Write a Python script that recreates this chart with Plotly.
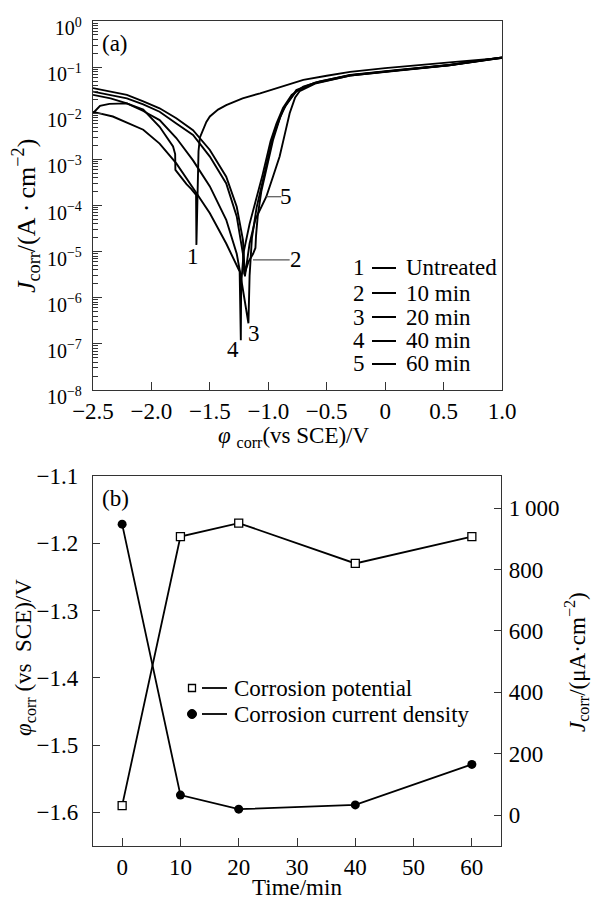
import math
import plotly.graph_objects as go

# ---------------- (a) polarization curves ----------------
# potential (V vs SCE) and current density (A/cm^2)
E1 = [-2.5, -2.44, -2.36, -2.21, -2.07, -1.93, -1.815, -1.797, -1.795, -1.73, -1.70, -1.66, -1.618, -1.615,
      -1.608, -1.603, -1.597, -1.585, -1.56, -1.53, -1.50, -1.43, -1.36, -1.22, -1.07, -0.93, -0.70, -0.5, -0.3,
      0.0, 0.3, 0.6, 1.0]
J1 = [1e-2, 1.45e-2, 1.6e-2, 1.64e-2, 1.2e-2, 5.1e-3, 1.9e-3, 1.3e-3, 5.9e-4, 3.5e-4, 2.9e-4, 2.3e-4, 1.7e-4, 1.4e-5,
      1e-4, 6e-4, 1.5e-3, 3e-3, 4.4e-3, 6.5e-3, 8.5e-3, 1.2e-2, 1.5e-2, 2.1e-2, 2.7e-2, 3.5e-2, 5.3e-2, 6.5e-2, 7.9e-2,
      9.5e-2, 1.12e-1, 1.3e-1, 1.58e-1]

E2 = [-2.5, -2.35, -2.21, -2.07, -1.93, -1.787, -1.644, -1.5, -1.36, -1.27, -1.217, -1.205,
      -1.17, -1.13, -1.11, -1.105, -1.09, -1.06, -1.02, -0.96, -0.9, -0.85, -0.76, -0.6, -0.3, 0.13, 0.55, 1.0]
J2 = [2.95e-2, 2.5e-2, 2.1e-2, 1.55e-2, 1.08e-2, 6e-3, 3.4e-3, 1.15e-3, 3e-4, 5.8e-5, 9e-6, 3.2e-6,
      6e-6, 9e-6, 1.2e-5, 2.2e-5, 6e-5, 2e-4, 6e-4, 2.6e-3, 8e-3, 1.5e-2, 3e-2, 4.5e-2, 6.6e-2, 8.7e-2, 1.1e-1, 1.6e-1]

E3 = [-2.5, -2.35, -2.21, -2.07, -1.93, -1.787, -1.644, -1.5, -1.36, -1.27, -1.24, -1.17,
      -1.16, -1.14, -1.10, -1.045, -0.96, -0.874, -0.76, -0.6, -0.3, 0.13, 0.55, 1.0]
J3 = [2.5e-2, 2.1e-2, 1.64e-2, 1.12e-2, 7.1e-3, 2.9e-3, 9.5e-4, 2.6e-4, 4.9e-5, 9e-6, 3.4e-6, 2.8e-7,
      3e-6, 2e-5, 9e-5, 3.5e-4, 3.1e-3, 1.2e-2, 3.2e-2, 4.6e-2, 6.8e-2, 8.8e-2, 1.11e-1, 1.62e-1]

E4 = [-2.5, -2.33, -2.2, -2.07, -1.93, -1.787, -1.644, -1.5, -1.36, -1.3, -1.245, -1.235,
      -1.232, -1.21, -1.16, -1.1, -1.05, -0.98, -0.93, -0.874, -0.8, -0.7, -0.56, -0.3, 0.13, 0.55, 1.0]
J4 = [1.07e-2, 8.5e-3, 6.1e-3, 4.4e-3, 2.2e-3, 8.2e-4, 2.4e-4, 6.8e-5, 1.5e-5, 7.5e-6, 3.7e-6, 1.2e-7,
      2e-6, 1e-5, 4e-5, 1.5e-4, 4.5e-4, 2.5e-3, 6e-3, 1.3e-2, 2.5e-2, 3.8e-2, 4.9e-2, 6.7e-2, 8.8e-2, 1.11e-1, 1.63e-1]

E5 = [-2.5, -2.35, -2.21, -2.07, -1.93, -1.787, -1.644, -1.5, -1.36, -1.27, -1.217, -1.2,
      -1.16, -1.11, -1.074, -1.017, -0.96, -0.903, -0.86, -0.817, -0.77, -0.732, -0.6, -0.3, 0.13, 0.55, 1.0]
J5 = [3.5e-2, 2.95e-2, 2.5e-2, 1.8e-2, 1.28e-2, 7.8e-3, 4.3e-3, 1.6e-3, 4.2e-4, 9.4e-5, 1.8e-5, 2.9e-6,
      1.5e-5, 5e-5, 8e-5, 1.55e-4, 4.2e-4, 1.15e-3, 3.4e-3, 1e-2, 2.2e-2, 3e-2, 4.4e-2, 6.6e-2, 8.6e-2, 1.1e-1, 1.6e-1]

curve_names = ["Untreated", "10 min", "20 min", "40 min", "60 min"]
curve_ids = ["1", "2", "3", "4", "5"]
# label positions on the curves (potential, current density)
label_E = [-1.642, -0.765, -1.124, -1.302, -0.846]
label_J = [7.8e-6, 6.6e-6, 1.7e-7, 7.4e-8, 1.55e-4]
# leader lines for labels 2 and 5
lead2_E = [-1.131, -0.817]
lead2_J = [6.6e-6, 6.6e-6]
lead5_E = [-1.017, -0.889]
lead5_J = [1.55e-4, 1.55e-4]

xa_ticks = [-2.5, -2.0, -1.5, -1.0, -0.5, 0.0, 0.5, 1.0]
xa_text = ["\u22122.5", "\u22122.0", "\u22121.5", "\u22121.0", "\u22120.5", "0", "0.5", "1.0"]
ya_exps = [-8, -7, -6, -5, -4, -3, -2, -1, 0]

# ---------------- (b) corrosion parameters ----------------
time_min = [0, 10, 20, 40, 60]
phi_corr = [-1.59, -1.19, -1.17, -1.23, -1.19]
j_corr = [948, 65, 19, 33, 165]

xb_ticks = [0, 10, 20, 30, 40, 50, 60]
yb_ticks = [-1.6, -1.5, -1.4, -1.3, -1.2, -1.1]
yb_text = ["\u22121.6", "\u22121.5", "\u22121.4", "\u22121.3", "\u22121.2", "\u22121.1"]
yr_ticks = [0, 200, 400, 600, 800, 1000]
yr_text = ["0", "200", "400", "600", "800", "1\u2009000"]

# ---------------- figure ----------------
W, H = 591, 900
FONT = "Liberation Serif, Times New Roman, serif"
FS = 23
AX = "#333333"


def px(x):
    return x / W


def py(y):
    return 1 - y / H


fig = go.Figure()
for E, J in [(E1, J1), (E2, J2), (E3, J3), (E4, J4), (E5, J5)]:
    fig.add_trace(go.Scatter(x=E, y=J, mode="lines", xaxis="x", yaxis="y",
                             line=dict(color="black", width=1.9), showlegend=False, hoverinfo="skip"))
for LE, LJ in [(lead2_E, lead2_J), (lead5_E, lead5_J)]:
    fig.add_trace(go.Scatter(x=LE, y=LJ, mode="lines", xaxis="x", yaxis="y",
                             line=dict(color="#555555", width=1.2), showlegend=False, hoverinfo="skip"))

fig.add_trace(go.Scatter(x=time_min, y=phi_corr, mode="lines+markers", xaxis="x2", yaxis="y2",
                         line=dict(color="black", width=1.8),
                         marker=dict(symbol="square", size=8, color="white", line=dict(color="black", width=1.3)),
                         name="Corrosion potential", showlegend=False))
fig.add_trace(go.Scatter(x=time_min, y=j_corr, mode="lines+markers", xaxis="x2", yaxis="y3",
                         line=dict(color="black", width=1.8),
                         marker=dict(symbol="circle", size=9, color="black"),
                         name="Corrosion current density", showlegend=False))

minor_vals = [k * 10 ** e for e in range(-8, 0) for k in range(2, 10)]
axis_common = dict(showline=True, linecolor=AX, linewidth=1.4, showgrid=False, zeroline=False,
                   automargin=False, tickcolor=AX, tickwidth=1.3)
tf = dict(family=FONT, size=FS, color="black")

fig.update_layout(
    template="none",
    width=W, height=H, autosize=False,
    margin=dict(l=0, r=0, t=0, b=0, pad=0),
    paper_bgcolor="white", plot_bgcolor="white",
    font=dict(family=FONT, size=FS, color="black"),
    xaxis=dict(domain=[px(93), px(502)], anchor="y", range=[-2.5, 1.0],
               tickmode="array", tickvals=xa_ticks, ticktext=xa_text, tickfont=tf,
               ticks="inside", ticklen=8, mirror=True, ticklabelstandoff=0, **axis_common),
    yaxis=dict(domain=[py(390), py(21)], anchor="x", type="log", range=[-8, 0],
               tickmode="array", tickvals=[10 ** e for e in ya_exps],
               ticktext=["10<sup>" + ("\u2212" + str(-e) if e < 0 else str(e)) + "</sup>" for e in ya_exps],
               tickfont=dict(family=FONT, size=20, color="black"),
               ticks="inside", ticklen=9, mirror=True, ticklabelstandoff=6, ticklabelshift=7,
               minor=dict(tickmode="array", tickvals=minor_vals, ticks="inside", ticklen=5,
                          tickcolor=AX, tickwidth=1.1),
               **axis_common),
    xaxis2=dict(domain=[px(93), px(501)], anchor="y2", range=[-5, 65],
                tickmode="array", tickvals=xb_ticks, tickfont=tf,
                ticks="inside", ticklen=8, mirror=True, ticklabelstandoff=0, **axis_common),
    yaxis2=dict(domain=[py(846), py(476)], anchor="x2", range=[-1.65, -1.1],
                tickmode="array", tickvals=yb_ticks, ticktext=yb_text, side="left", tickfont=tf,
                ticks="inside", ticklen=7, ticklabelstandoff=9, **axis_common),
    yaxis3=dict(overlaying="y2", anchor="x2", side="right", range=[-101, 1105],
                tickmode="array", tickvals=yr_ticks, ticktext=yr_text, tickfont=tf,
                ticks="inside", ticklen=7, ticklabelstandoff=2, **axis_common),
)

ann = []
# curve labels
for cid, le, lj in zip(curve_ids, label_E, label_J):
    ann.append(dict(x=le, y=math.log10(lj), xref="x", yref="y", text=cid, showarrow=False,
                    xanchor="center", yanchor="middle", font=dict(family=FONT, size=FS)))

# panel tags
ann.append(dict(x=px(100), y=py(43), xref="paper", yref="paper", text="(a)", showarrow=False,
                xanchor="left", yanchor="middle", font=dict(family=FONT, size=FS)))
ann.append(dict(x=px(100), y=py(498), xref="paper", yref="paper", text="(b)", showarrow=False,
                xanchor="left", yanchor="middle", font=dict(family=FONT, size=FS)))

# axis titles
ann.append(dict(x=px(293), y=py(437), xref="paper", yref="paper",
                text="<i>\u03c6</i> <sub>corr</sub>(vs SCE)/V", showarrow=False,
                xanchor="center", yanchor="middle", font=dict(family=FONT, size=FS)))
ann.append(dict(x=px(26), y=py(216), xref="paper", yref="paper", textangle=-90,
                text="<i>J</i><sub>corr</sub>/(A\u2009\u00b7\u2009cm<sup>\u22122</sup>)", showarrow=False,
                xanchor="center", yanchor="middle", font=dict(family=FONT, size=26)))
ann.append(dict(x=px(297), y=py(887), xref="paper", yref="paper", text="Time/min", showarrow=False,
                xanchor="center", yanchor="middle", font=dict(family=FONT, size=FS)))
ann.append(dict(x=px(25), y=py(658), xref="paper", yref="paper", textangle=-90,
                text="<i>\u03c6</i><sub>corr</sub> (vs  SCE)/V", showarrow=False,
                xanchor="center", yanchor="middle", font=dict(family=FONT, size=FS)))
ann.append(dict(x=px(576), y=py(662), xref="paper", yref="paper", textangle=-90,
                text="<i>J</i><sub>corr</sub>/(\u03bcA\u00b7cm<sup>\u22122</sup>)", showarrow=False,
                xanchor="center", yanchor="middle", font=dict(family=FONT, size=FS)))

shapes = []
# legend (a)
leg_rows = [268, 293, 317, 341, 364]
for cid, name, yy in zip(curve_ids, curve_names, leg_rows):
    ann.append(dict(x=px(351), y=py(yy), xref="paper", yref="paper", text=cid, showarrow=False,
                    xanchor="left", yanchor="middle", font=dict(family=FONT, size=FS)))
    ann.append(dict(x=px(404), y=py(yy), xref="paper", yref="paper", text=name, showarrow=False,
                    xanchor="left", yanchor="middle", font=dict(family=FONT, size=FS)))
    shapes.append(dict(type="line", xref="paper", yref="paper", x0=px(372), x1=px(396),
                       y0=py(yy), y1=py(yy), line=dict(color="black", width=2)))

# legend (b)
for yy, txt in [(688, "Corrosion potential"), (714, "Corrosion current density")]:
    shapes.append(dict(type="line", xref="paper", yref="paper", x0=px(202), x1=px(227),
                       y0=py(yy), y1=py(yy), line=dict(color="black", width=1.8)))
    ann.append(dict(x=px(232), y=py(yy), xref="paper", yref="paper", text=txt, showarrow=False,
                    xanchor="left", yanchor="middle", font=dict(family=FONT, size=FS)))
shapes.append(dict(type="rect", xref="paper", yref="paper", x0=px(188.5), x1=px(195.5),
                   y0=py(691.5), y1=py(684.5), line=dict(color="black", width=1.3), fillcolor="white"))
shapes.append(dict(type="circle", xref="paper", yref="paper", x0=px(187.5), x1=px(196.5),
                   y0=py(718.5), y1=py(709.5), line=dict(color="black", width=1), fillcolor="black"))

fig.update_layout(annotations=ann, shapes=shapes)
fig.write_html("out.html", config={"displayModeBar": False},
               post_script="document.body.style.margin='0px';document.body.style.overflow='hidden';")
